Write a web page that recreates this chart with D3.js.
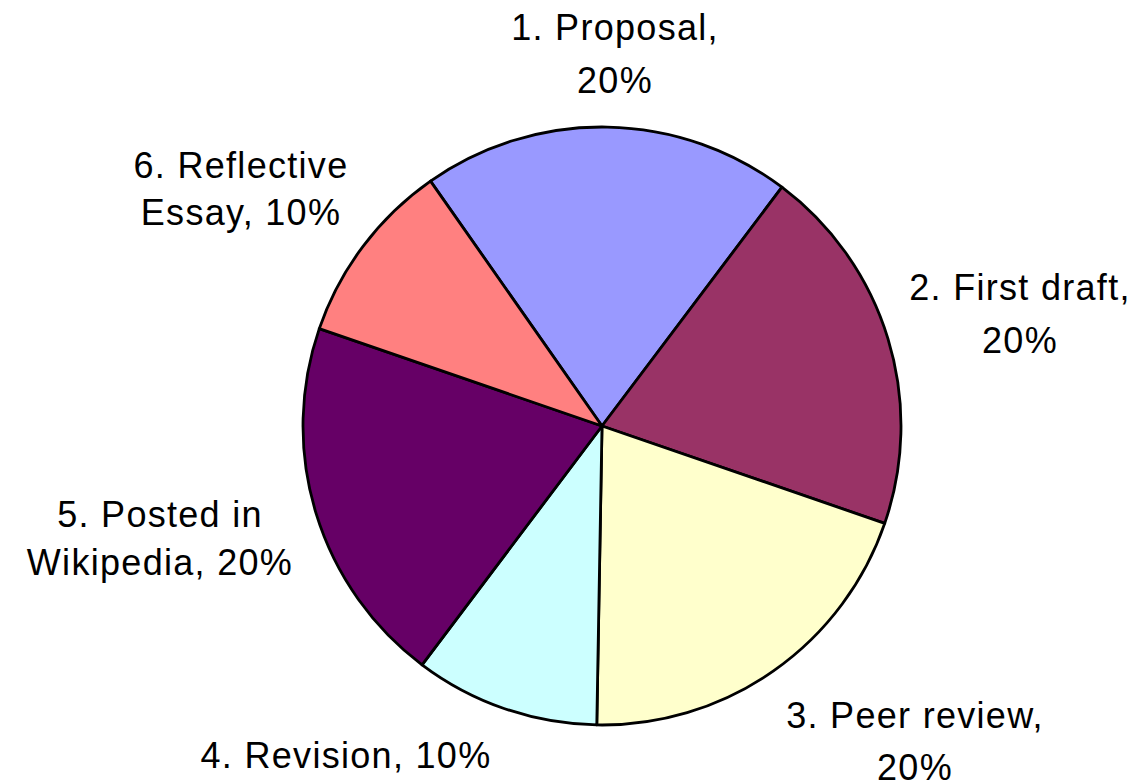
<!DOCTYPE html>
<html>
<head>
<meta charset="utf-8">
<script src="https://cdn.jsdelivr.net/npm/d3@7"></script>
<style>
  html, body { margin: 0; padding: 0; background: #fff; }
  svg { display: block; }
</style>
</head>
<body>
<svg id="chart" width="1142" height="783"></svg>
<script>
// ---- data ----
const categories = ["1. Proposal,", "2. First draft,", "3. Peer review,", "4. Revision,", "5. Posted in", "6. Reflective"];
const values = [20, 20, 20, 10, 20, 10];
const labelLines = [
  ["1. Proposal,", "20%"],
  ["2. First draft,", "20%"],
  ["3. Peer review,", "20%"],
  ["4. Revision, 10%"],
  ["5. Posted in", "Wikipedia, 20%"],
  ["6. Reflective", "Essay, 10%"]
];
const colors = ["#9999FF", "#993366", "#FFFFCC", "#CCFFFF", "#660066", "#FF8080"];

// ---- layout (positions relative to pie centre) ----
const W = 1142, H = 783;
const cx = 602, cy = 426, R = 299;
const startDeg = -35;
// label anchor: dx, dy of first baseline from centre, and line gap
const labelLayout = [
  { dx: 13,   dy: -386, gap: 53 },
  { dx: 418,  dy: -126, gap: 53 },
  { dx: 313,  dy: 302,  gap: 52 },
  { dx: -256, dy: 342,  gap: 50 },
  { dx: -442, dy: 101,  gap: 48 },
  { dx: -361, dy: -248, gap: 47 }
];

const svg = d3.select("#chart");
const g = svg.append("g").attr("transform", `translate(${cx},${cy})`);

const start = startDeg * Math.PI / 180;
const pie = d3.pie().sort(null).value(d => d).startAngle(start).endAngle(start + 2 * Math.PI);
const arc = d3.arc().innerRadius(0).outerRadius(R);
const arcs = pie(values);

g.selectAll("path.slice")
  .data(arcs)
  .join("path")
  .attr("class", "slice")
  .attr("d", arc)
  .attr("fill", (d, i) => colors[i])
  .attr("stroke", "#000")
  .attr("stroke-width", 2.8)
  .attr("stroke-linejoin", "round");

const labels = g.selectAll("text.lbl")
  .data(arcs)
  .join("text")
  .attr("class", "lbl")
  .attr("text-anchor", "middle")
  .attr("font-family", "'Liberation Sans', Arial, sans-serif")
  .attr("font-size", 36)
  .attr("letter-spacing", 1.3)
  .attr("fill", "#000");

labels.each(function (d, i) {
  const L = labelLayout[i];
  d3.select(this).selectAll("tspan")
    .data(labelLines[i])
    .join("tspan")
    .attr("x", L.dx)
    .attr("y", (t, j) => L.dy + j * L.gap)
    .text(t => t);
});
</script>
</body>
</html>
